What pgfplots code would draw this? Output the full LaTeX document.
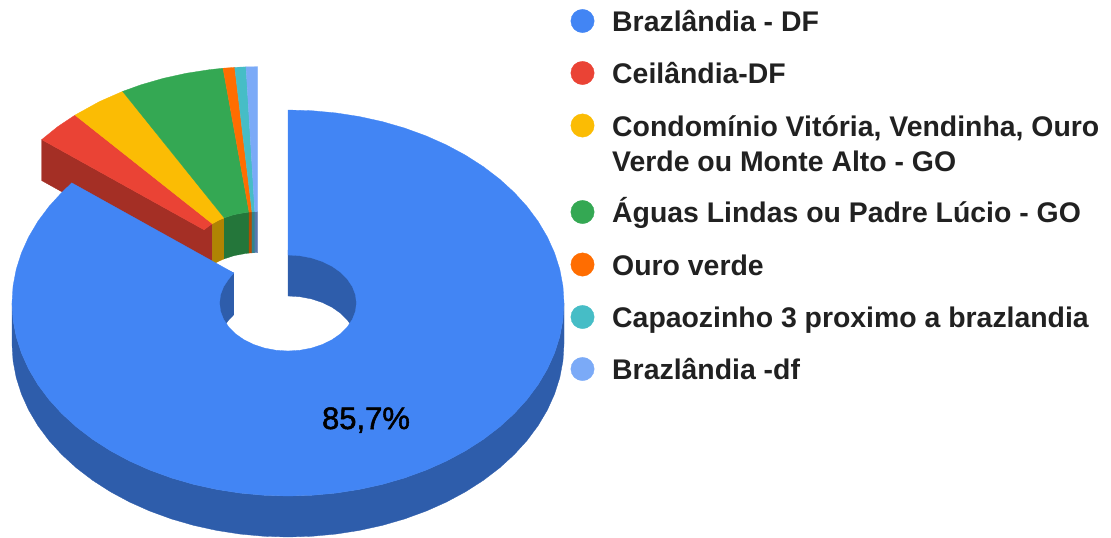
\documentclass[border=0pt]{standalone}
\usepackage{pgfplots}
\pgfplotsset{compat=1.18}
\usepackage{fontspec}
\setmainfont{Liberation Sans}
\newfontfamily\lblfont[FakeBold=1.6]{Liberation Sans}
\definecolor{cBlue}{HTML}{4285F4}\definecolor{dBlue}{HTML}{2E5DAB}
\definecolor{cRed}{HTML}{EA4335}\definecolor{dRed}{HTML}{A42F25}
\definecolor{cYel}{HTML}{FBBC04}\definecolor{dYel}{HTML}{B08403}
\definecolor{cGrn}{HTML}{34A853}\definecolor{dGrn}{HTML}{24763A}
\definecolor{cOrg}{HTML}{FF6D01}\definecolor{dOrg}{HTML}{B34C01}
\definecolor{cTea}{HTML}{46BDC6}\definecolor{dTea}{HTML}{31848B}
\definecolor{cLbl}{HTML}{7BAAF7}\definecolor{dLbl}{HTML}{5677AD}
\definecolor{txt}{HTML}{212121}
\begin{document}
\begin{tikzpicture}
\useasboundingbox (0,0) rectangle (1111pt,538pt);
\begin{axis}[at={(0,0)},anchor=south west,scale only axis,width=1111pt,height=538pt,
  xmin=0,xmax=1111,ymin=0,ymax=538,y dir=reverse,hide axis,clip=false,
  every axis plot/.append style={line width=0.3pt}]
% exploded slice: cut face and inner wall
\addplot[draw=dRed,fill=dRed] coordinates {(41.7,139.6)(204.1,229.8)(204.1,270.8)(41.7,180.6)} --cycle;
\addplot[draw=dRed,fill=dRed] coordinates {(204.1,229.8)(208.01,226.66)(212.35,223.74)(212.35,264.74)(208.01,267.66)(204.1,270.8)} --cycle;
\addplot[draw=dYel,fill=dYel] coordinates {(212.35,223.74)(218.41,220.38)(224.2,217.83)(224.2,258.83)(218.41,261.38)(212.35,264.74)} --cycle;
\addplot[draw=dGrn,fill=dGrn] coordinates {(224.2,217.83)(234.27,214.59)(245.81,212.43)(249.09,212.08)(249.09,253.08)(245.81,253.43)(234.27,255.59)(224.2,258.83)} --cycle;
\addplot[draw=dOrg,fill=dOrg] coordinates {(249.09,212.08)(251.99,211.87)(251.99,252.87)(249.09,253.08)} --cycle;
\addplot[draw=dTea,fill=dTea] coordinates {(251.99,211.87)(254.8,211.74)(254.8,252.74)(251.99,252.87)} --cycle;
\addplot[draw=dLbl,fill=dLbl] coordinates {(254.8,211.74)(257.7,211.7)(257.7,252.7)(254.8,252.74)} --cycle;
% exploded slice: top faces
\addplot[draw=cRed,fill=cRed] coordinates {(41.7,139.6)(57.5,126.84)(75,115.1)(212.35,223.74)(208.01,226.66)(204.1,229.8)} --cycle;
\addplot[draw=cYel,fill=cYel] coordinates {(75,115.1)(99.39,101.6)(122.63,91.4)(224.2,217.83)(218.41,220.38)(212.35,223.74)} --cycle;
\addplot[draw=cGrn,fill=cGrn] coordinates {(122.63,91.4)(141.06,84.78)(163.3,78.34)(186.27,73.28)(209.77,69.63)(223.01,68.23)(249.09,212.08)(245.81,212.43)(234.27,214.59)(224.2,217.83)} --cycle;
\addplot[draw=cOrg,fill=cOrg] coordinates {(223.01,68.23)(234.7,67.37)(251.99,211.87)(249.09,212.08)} --cycle;
\addplot[draw=cTea,fill=cTea] coordinates {(234.7,67.37)(246,66.87)(254.8,211.74)(251.99,211.87)} --cycle;
\addplot[draw=cLbl,fill=cLbl] coordinates {(246,66.87)(257.7,66.7)(257.7,211.7)(254.8,211.74)} --cycle;
% main slice: outer wall (crescent)
\addplot[draw=dBlue,fill=dBlue] coordinates {(564,303)(564,344)(562.95,360.82)(559.81,377.51)(554.60,393.95)(547.35,410.01)(538.14,425.57)(527.02,440.50)(514.09,454.70)(499.43,468.06)(483.16,480.47)(465.41,491.85)(446.31,502.10)(426,511.14)(404.64,518.92)(382.40,525.36)(359.43,530.42)(335.93,534.07)(312.06,536.26)(288,537)(263.94,536.26)(240.07,534.07)(216.57,530.42)(193.60,525.36)(171.36,518.92)(150,511.14)(129.69,502.10)(110.59,491.85)(92.84,480.47)(76.57,468.06)(61.91,454.70)(48.98,440.50)(37.86,425.57)(28.65,410.01)(21.40,393.95)(16.19,377.51)(13.05,360.82)(12,344)(12,303)(13.05,319.82)(16.19,336.51)(21.40,352.95)(28.65,369.01)(37.86,384.57)(48.98,399.50)(61.91,413.70)(76.57,427.06)(92.84,439.47)(110.59,450.85)(129.69,461.10)(150,470.14)(171.36,477.92)(193.60,484.36)(216.57,489.42)(240.07,493.07)(263.94,495.26)(288,496)(312.06,495.26)(335.93,493.07)(359.43,489.42)(382.40,484.36)(404.64,477.92)(426,470.14)(446.31,461.10)(465.41,450.85)(483.16,439.47)(499.43,427.06)(514.09,413.70)(527.02,399.50)(538.14,384.57)(547.35,369.01)(554.60,352.95)(559.81,336.51)(562.95,319.82)} --cycle;
% main slice: hole walls
\addplot[draw=dBlue,fill=dBlue] coordinates {(288,296)(299.89,296.73)(311.43,298.89)(322.25,302.43)(332.03,307.23)(340.47,313.15)(347.32,320)(349.9,323.5)(362,323.5)(362,250)(288,250)} --cycle;
\addplot[draw=dBlue,fill=dBlue] coordinates {(233.8,273)(215,265)(215,323.5)(226.1,323.5)(228.68,320)(233.8,314.7)} --cycle;
% main slice: top face
\addplot[draw=cBlue,fill=cBlue] coordinates {(288,110)(312.06,110.74)(335.93,112.93)(359.43,116.58)(382.40,121.64)(404.64,128.08)(426,135.86)(446.31,144.90)(465.41,155.15)(483.16,166.53)(499.43,178.94)(514.09,192.30)(527.02,206.50)(538.14,221.43)(547.35,236.99)(554.60,253.05)(559.81,269.49)(562.95,286.18)(564,303)(562.95,319.82)(559.81,336.51)(554.60,352.95)(547.35,369.01)(538.14,384.57)(527.02,399.50)(514.09,413.70)(499.43,427.06)(483.16,439.47)(465.41,450.85)(446.31,461.10)(426,470.14)(404.64,477.92)(382.40,484.36)(359.43,489.42)(335.93,493.07)(312.06,495.26)(288,496)(263.94,495.26)(240.07,493.07)(216.57,489.42)(193.60,484.36)(171.36,477.92)(150,470.14)(129.69,461.10)(110.59,450.85)(92.84,439.47)(76.57,427.06)(61.91,413.70)(48.98,399.50)(37.86,384.57)(28.65,369.01)(21.40,352.95)(16.19,336.51)(13.05,319.82)(12,303)(13.05,286.18)(16.19,269.49)(21.40,253.05)(28.65,236.99)(37.86,221.43)(48.98,206.50)(61.91,192.30)(71.8,182.9)(233.8,273)(228.68,279)(223.63,286.58)(220.54,294.66)(219.5,303)(220.54,311.34)(223.63,319.42)(228.68,327)(235.53,333.85)(243.97,339.77)(253.75,344.57)(264.57,348.11)(276.11,350.27)(288,351)(299.89,350.27)(311.43,348.11)(322.25,344.57)(332.03,339.77)(340.47,333.85)(347.32,327)(352.37,319.42)(355.46,311.34)(356.5,303)(355.46,294.66)(352.37,286.58)(347.32,279)(340.47,272.15)(332.03,266.23)(322.25,261.43)(311.43,257.89)(299.89,255.73)(288,255)} --cycle;
% legend markers
\addplot[only marks,color=cBlue,mark=*,mark size=11.7pt,mark options={draw=cBlue,fill=cBlue}] coordinates {(582.5,21)};
\addplot[only marks,color=cRed,mark=*,mark size=11.7pt,mark options={draw=cRed,fill=cRed}] coordinates {(582.5,73)};
\addplot[only marks,color=cYel,mark=*,mark size=11.7pt,mark options={draw=cYel,fill=cYel}] coordinates {(582.5,125.5)};
\addplot[only marks,color=cGrn,mark=*,mark size=11.7pt,mark options={draw=cGrn,fill=cGrn}] coordinates {(582.5,212)};
\addplot[only marks,color=cOrg,mark=*,mark size=11.7pt,mark options={draw=cOrg,fill=cOrg}] coordinates {(582.5,264.5)};
\addplot[only marks,color=cTea,mark=*,mark size=11.7pt,mark options={draw=cTea,fill=cTea}] coordinates {(582.5,317)};
\addplot[only marks,color=cLbl,mark=*,mark size=11.7pt,mark options={draw=cLbl,fill=cLbl}] coordinates {(582.5,369)};
% texts
\tikzset{lg/.style={anchor=base west,inner sep=0pt,text=txt,font=\fontsize{28.4pt}{34pt}\selectfont\bfseries}}
\node[lg] at (axis cs:612,31) {Brazlândia - DF};
\node[lg] at (axis cs:612,83) {Ceilândia-DF};
\node[lg] at (axis cs:612,136) {Condomínio Vitória, Vendinha, Ouro};
\node[lg] at (axis cs:612,171) {Verde ou Monte Alto - GO};
\node[lg] at (axis cs:612,222) {Águas Lindas ou Padre Lúcio - GO};
\node[lg] at (axis cs:612,275) {Ouro verde};
\node[lg] at (axis cs:612,327) {Capaozinho 3 proximo a brazlandia};
\node[lg] at (axis cs:612,379) {Brazlândia -df};
\node[anchor=base,inner sep=0pt,text=black,font=\lblfont\fontsize{31pt}{36pt}\selectfont] at (axis cs:366,429) {85,7\%};
\end{axis}
\end{tikzpicture}
\end{document}
